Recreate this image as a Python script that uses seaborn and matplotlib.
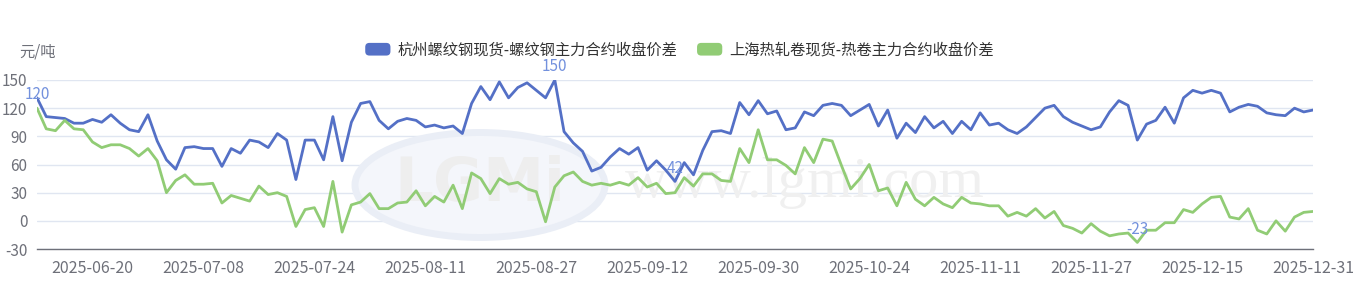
import numpy as np
import pandas as pd
import matplotlib
matplotlib.use("Agg")
import matplotlib.pyplot as plt
import matplotlib.patches as mpatches
from matplotlib.legend_handler import HandlerBase
import seaborn as sns

# ---------------- data ----------------
dates = [d for d in pd.bdate_range("2025-06-12", "2025-12-31")
         if not (pd.Timestamp("2025-10-01") <= d <= pd.Timestamp("2025-10-08"))]
date_labels = [d.strftime("%Y-%m-%d") for d in dates]

series_names = ["杭州螺纹钢现货-螺纹钢主力合约收盘价差", "上海热轧卷现货-热卷主力合约收盘价差"]

rebar_spread = [
    131, 111, 110, 109, 104, 104, 108, 105, 113, 104,
    97, 95, 113, 85, 65, 55, 78, 79, 77, 77,
    58, 77, 72, 86, 84, 78, 93, 86, 44, 86,
    86, 65, 111, 64, 105, 125, 127, 107, 98, 106,
    109, 107, 100, 102, 99, 101, 93, 125, 143, 129,
    148, 131, 142, 147, 139, 131, 150, 95, 83, 74,
    53, 57, 68, 77, 71, 78, 54, 64, 54, 42,
    62, 49, 75, 95, 96, 93, 126, 113, 128, 114,
    117, 97, 99, 116, 112, 123, 125, 123, 112, 118,
    124, 101, 118, 88, 104, 94, 111, 99, 106, 93,
    106, 97, 115, 102, 104, 97, 93, 100, 110, 120,
    123, 111, 105, 101, 97, 100, 116, 128, 123, 86,
    103, 107, 121, 104, 131, 139, 136, 139, 136, 116,
    121, 124, 122, 115, 113, 112, 120, 116, 118,
]

hrc_spread = [
    120, 98, 96, 107, 98, 97, 84, 78, 81, 81,
    77, 69, 77, 64, 30, 43, 49, 39, 39, 40,
    19, 27, 24, 21, 37, 28, 30, 26, -6, 12,
    14, -6, 42, -12, 17, 20, 29, 13, 13, 19,
    20, 32, 16, 26, 20, 38, 13, 51, 45, 29,
    45, 39, 41, 34, 31, -1, 36, 48, 52, 42,
    38, 40, 38, 41, 38, 46, 36, 40, 29, 30,
    46, 37, 50, 50, 43, 42, 77, 62, 97, 65,
    65, 59, 50, 78, 62, 87, 85, 59, 34, 45,
    60, 32, 35, 16, 41, 23, 16, 25, 18, 14,
    25, 19, 18, 16, 16, 5, 9, 5, 13, 3,
    10, -5, -8, -13, -3, -11, -16, -14, -13, -23,
    -10, -10, -2, -2, 12, 9, 18, 25, 26, 4,
    2, 13, -10, -14, 0, -11, 4, 9, 10,
]

y_ticks = [-30, 0, 30, 60, 90, 120, 150]
unit_label = "元/吨"
watermark_logo = "LGMi"
watermark_site = "www.lgmi.com"

# ---------------- style ----------------
sns.set_style("white")
plt.rcParams["font.family"] = ["Noto Sans CJK SC", "DejaVu Sans"]

colors = {series_names[0]: "#5470c6", series_names[1]: "#91cc75"}
axis_color = "#6e7079"
grid_color = "#e0e6f1"
label_color = "#7391dd"
fs = 11

W, H = 1359, 294
fig = plt.figure(figsize=(W / 100, H / 100), dpi=100)
ax = fig.add_axes([37 / W, 1 - 249 / H, 1276 / W, 169 / H])

# faint watermark, drawn under the lines
ell = mpatches.Ellipse((480 / W, 1 - 185 / H), 250 / W, 105 / H,
                       transform=fig.transFigure, facecolor="#f4f6fb",
                       edgecolor="#eaeef6", linewidth=5, zorder=0.6, clip_on=False)
ax.add_artist(ell)
ax.text(480 / W, 1 - 185 / H, watermark_logo, fontsize=44, color="#eeeeee",
        ha="center", va="center", fontweight="bold", family="DejaVu Sans",
        transform=fig.transFigure, zorder=0.7)
ax.text(805 / W, 1 - 183 / H, watermark_site, fontsize=42, color="#f0f0f0",
        ha="center", va="center", family="Liberation Serif",
        transform=fig.transFigure, zorder=0.7)

n = len(date_labels)
df = pd.DataFrame({
    "idx": list(range(n)) * 2,
    "value": rebar_spread + hrc_spread,
    "series": [series_names[0]] * n + [series_names[1]] * n,
})
sns.lineplot(data=df, x="idx", y="value", hue="series", palette=colors,
             linewidth=2.0, legend=False, ax=ax, zorder=3)

ax.set_xlim(0, n - 1)
ax.set_ylim(-30, 150)
ax.set_yticks(y_ticks)
ax.set_yticklabels([str(t) for t in y_ticks])
tick_pos = list(range(6, n, 12))
ax.set_xticks(tick_pos)
ax.set_xticklabels([date_labels[i] for i in tick_pos])
ax.grid(axis="y", color=grid_color, linewidth=1, zorder=0.5)
ax.set_axisbelow(True)
for s in ["top", "right", "left"]:
    ax.spines[s].set_visible(False)
ax.spines["bottom"].set_color(axis_color)
ax.spines["bottom"].set_linewidth(1)
ax.tick_params(axis="x", colors=axis_color, labelsize=11.5, length=4, width=1, pad=4)
ax.tick_params(axis="y", colors=axis_color, labelsize=fs, length=0, pad=7)
ax.set_xlabel("")
ax.set_ylabel("")

fig.text(19 / W, 1 - 52 / H, unit_label, fontsize=fs, color=axis_color,
         ha="left", va="center")

# max / min labels
for vals in (rebar_spread, hrc_spread):
    for i in (int(np.argmax(vals)), int(np.argmin(vals))):
        ax.annotate(str(vals[i]), (i, vals[i]), xytext=(0, 9.5), textcoords="offset points",
                    ha="center", va="center", fontsize=fs, color=label_color, zorder=4)

# legend with rounded rectangles
class RoundBoxHandler(HandlerBase):
    def create_artists(self, legend, orig_handle, xdescent, ydescent, width, height,
                       fontsize, trans):
        p = mpatches.FancyBboxPatch((-xdescent, -ydescent), width, height,
                                    boxstyle="round,pad=0,rounding_size=3",
                                    facecolor=orig_handle.get_facecolor(),
                                    edgecolor="none", transform=trans)
        return [p]

handles = [mpatches.Patch(facecolor=colors[s]) for s in series_names]
leg = fig.legend(handles, series_names, loc="center", bbox_to_anchor=(0.5, 1 - 50 / H),
                 ncol=2, frameon=False, fontsize=fs, handlelength=1.65, handleheight=0.9,
                 handletextpad=0.45, columnspacing=1.3,
                 borderpad=0.2, handler_map={mpatches.Patch: RoundBoxHandler()})
for t in leg.get_texts():
    t.set_color("#333333")

fig.savefig("out.png", dpi=100)
